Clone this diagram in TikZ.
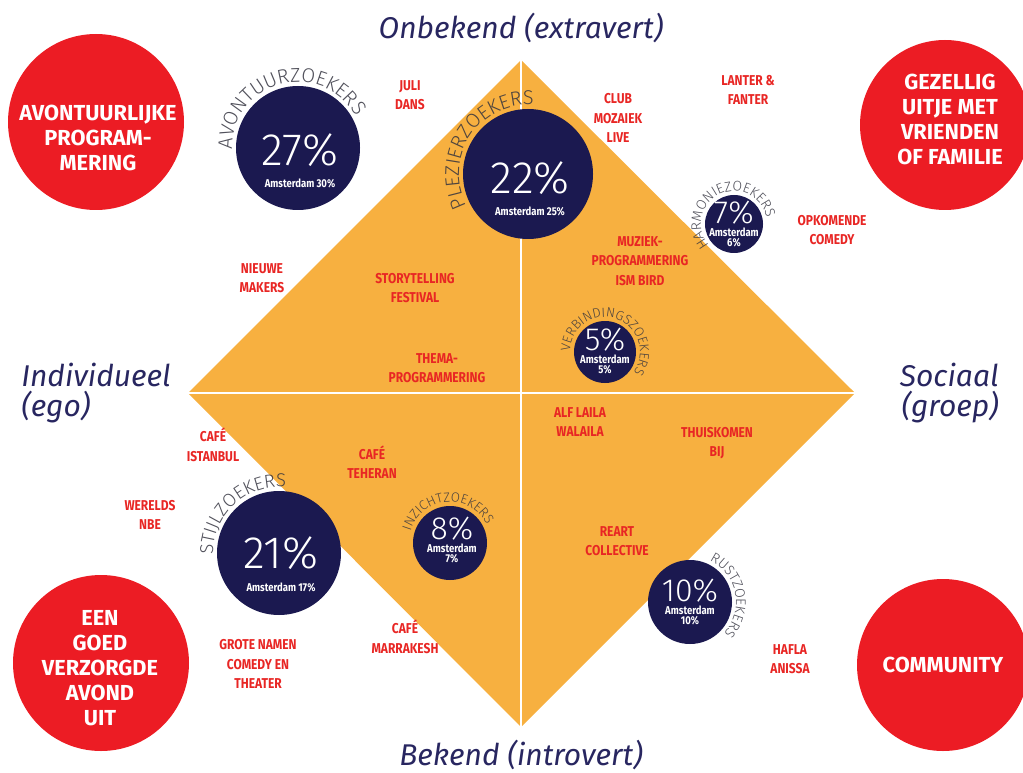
\documentclass[tikz,border=0pt]{standalone}
\usepackage{fontspec}
\setmainfont{Fira Sans}
\newfontfamily\thinfont{Fira Sans Light}
\newfontfamily\condfont[FakeStretch=0.84]{Fira Sans}
\usetikzlibrary{decorations.text}
\definecolor{diamondorange}{RGB}{247,176,64}
\definecolor{navy}{RGB}{27,25,80}
\definecolor{axisblue}{RGB}{40,38,96}
\definecolor{bubblered}{RGB}{236,28,36}
\definecolor{labelred}{RGB}{232,38,36}
\definecolor{arcgrey}{RGB}{50,50,62}
\newcommand{\fsz}[2]{\fontsize{#1}{#2}\selectfont}
\newcommand{\arcbig}{\thinfont\fsz{15pt}{15pt}}
\newcommand{\arcmid}{\thinfont\fsz{14pt}{14pt}}
\newcommand{\arcsmall}{\thinfont\fsz{10.5pt}{10.5pt}}
\newcommand{\arctiny}{\thinfont\fsz{10pt}{10pt}}
\tikzset{
    bubbletext/.style={text=white, font=\bfseries\fsz{16.3pt}{18.75pt}, align=center, inner sep=0pt},
    lbl/.style={text=labelred, font=\condfont\bfseries\fsz{10.7pt}{14.6pt}, align=center, inner sep=0pt},
    axis/.style={text=axisblue, font=\itshape\fsz{22.5pt}{22.5pt}, inner sep=0pt},
    pctbig/.style={text=white, font=\thinfont\fsz{34pt}{34pt}, inner sep=0pt},
    pctsmall/.style={text=white, font=\thinfont\fsz{24pt}{24pt}, inner sep=0pt},
    ams/.style={text=white, font=\condfont\bfseries\fsz{8.5pt}{7.5pt}, inner sep=0pt},
    arclabel/.style={decorate, decoration={text along path, text align=center, text color=arcgrey, text={#1}}},
  }
\begin{document}
\begin{tikzpicture}[x=0.75pt,y=0.75pt]
  \useasboundingbox (0,0) rectangle (1023,-773);

  %DIAMOND
  \coordinate (T) at (521,-60);
  \coordinate (R) at (855,-393);
  \coordinate (B) at (521,-727);
  \coordinate (L) at (188,-393);
  \fill[diamondorange] (T) -- (R) -- (B) -- (L) -- cycle;
  \draw[white, line width=1.3pt] (T) -- (B);
  \draw[white, line width=1.3pt] (L) -- (R);

  %AXES
  \node[axis] (onbekend) at (521,-28) {Onbekend (extravert)};
  \node[axis] (bekend) at (521,-755) {Bekend (introvert)};
  \node[axis, align=left, anchor=west] (ego) at (21,-393) {Individueel\\(ego)};
  \node[axis, align=right, anchor=east] (groep) at (999,-393) {Sociaal\\(groep)};

  %RED BUBBLES
  \fill[bubblered] (96,-122) circle[radius=88];
  \node[bubbletext] (avontuurlijk) at (98,-138) {AVONTUURLIJKE\\PROGRAM-\\MERING};
  \fill[bubblered] (945,-125) circle[radius=85];
  \node[bubbletext] (gezellig) at (950,-119) {GEZELLIG\\UITJE MET\\VRIENDEN\\OF FAMILIE};
  \fill[bubblered] (101,-663) circle[radius=88];
  \node[bubbletext] (verzorgd) at (100,-668) {EEN\\GOED\\VERZORGDE\\AVOND\\UIT};
  \fill[bubblered] (943,-665) circle[radius=86];
  \node[bubbletext] (community) at (943,-665) {COMMUNITY};

  %SEGMENTS
  \fill[navy] (298,-148) circle[radius=62];
  \node[pctbig] (p27) at (300,-150) {27\%};
  \node[ams] (a27) at (300,-183) {Amsterdam 30\%};
  \fill[navy] (528,-174) circle[radius=65];
  \node[pctbig] (p22) at (530,-178) {22\%};
  \node[ams] (a22) at (530,-211) {Amsterdam 25\%};
  \fill[navy] (734,-224) circle[radius=29];
  \node[pctsmall] (p7) at (734,-213) {7\%};
  \node[ams, align=center] (a7) at (734,-237) {Amsterdam\\6\%};
  \fill[navy] (605,-352) circle[radius=31];
  \node[pctsmall] (p5) at (605,-340) {5\%};
  \node[ams, align=center] (a5) at (605,-364) {Amsterdam\\5\%};
  \fill[navy] (279,-553) circle[radius=62];
  \node[pctbig] (p21) at (281,-553) {21\%};
  \node[ams] (a21) at (281,-587) {Amsterdam 17\%};
  \fill[navy] (450,-543) circle[radius=37];
  \node[pctsmall] (p8) at (452,-529) {8\%};
  \node[ams, align=center] (a8) at (452,-553) {Amsterdam\\7\%};
  \fill[navy] (690,-602) circle[radius=42];
  \node[pctsmall] (p10) at (690,-591) {10\%};
  \node[ams, align=center] (a10) at (690,-615) {Amsterdam\\10\%};

  %ARC NAMES (centred on the arc)
  \begin{scope}[opacity=0.85]
  \path[arclabel={|\arcbig|AVONTUURZOEKERS}] (298,-148) ++(215:66) arc[start angle=215, end angle=-5, radius=66];
  \path[arclabel={|\arcbig|PLEZIERZOEKERS}] (528,-174) ++(256.5:69) arc[start angle=256.5, end angle=36.5, radius=69];
  \path[arclabel={|\arcsmall|HARMONIEZOEKERS}] (734,-224) ++(266:33) arc[start angle=266, end angle=-34, radius=33];
  \path[arclabel={|\arctiny|VERBINDINGSZOEKERS}] (605,-352) ++(221.5:35) arc[start angle=221.5, end angle=-78.5, radius=35];
  \path[arclabel={|\arcmid|STIJLZOEKERS}] (279,-553) ++(242.5:66) arc[start angle=242.5, end angle=22.5, radius=66];
  \path[arclabel={|\arctiny|INZICHTZOEKERS}] (450,-543) ++(245:41) arc[start angle=245, end angle=-55, radius=41];
  \path[arclabel={|\arcsmall|RUSTZOEKERS}] (690,-602) ++(161:46) arc[start angle=161, end angle=-139, radius=46];
  \end{scope}

  %PROGRAMMA
  \node[lbl] (juli) at (410,-95) {JULI\\DANS};
  \node[lbl] (club) at (618,-118) {CLUB\\MOZAIEK\\LIVE};
  \node[lbl] (lanter) at (748,-90) {LANTER \&\\FANTER};
  \node[lbl] (opkomend) at (832,-230) {OPKOMENDE\\COMEDY};
  \node[lbl] (nieuwe) at (262,-278) {NIEUWE\\MAKERS};
  \node[lbl] (story) at (415,-288) {STORYTELLING\\FESTIVAL};
  \node[lbl] (muziek) at (640,-261) {MUZIEK-\\PROGRAMMERING\\ISM BIRD};
  \node[lbl] (thema) at (437,-368) {THEMA-\\PROGRAMMERING};
  \node[lbl] (alf) at (580,-422) {ALF LAILA\\WALAILA};
  \node[lbl] (thuis) at (717,-443) {THUISKOMEN\\BIJ};
  \node[lbl] (istanbul) at (213,-445) {CAFÉ\\ISTANBUL};
  \node[lbl] (teheran) at (372,-462) {CAFÉ\\TEHERAN};
  \node[lbl] (werelds) at (150,-515) {WERELDS\\NBE};
  \node[lbl] (reart) at (617,-541) {REART\\COLLECTIVE};
  \node[lbl] (marrakesh) at (405,-637) {CAFÉ\\MARRAKESH};
  \node[lbl] (grote) at (258,-664) {GROTE NAMEN\\COMEDY EN\\THEATER};
  \node[lbl] (hafla) at (790,-659) {HAFLA\\ANISSA};
\end{tikzpicture}
\end{document}
